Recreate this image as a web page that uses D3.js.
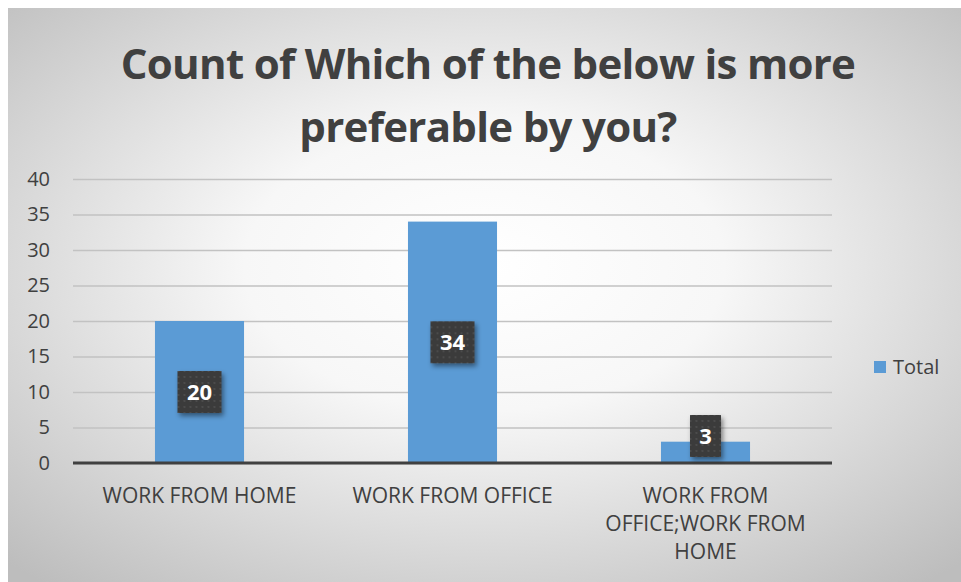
<!DOCTYPE html>
<head>
  <meta charset="UTF-8">
  <style>
    body { margin: 0; background: #fff; font-family: "Open Sans", sans-serif; }
    svg { display: block; }
  </style>
</head>
<body>
<script src="https://d3js.org/d3.v7.min.js"></script>
<div id="chart"></div>
<script>
  // data
  var categories = ["WORK FROM HOME", "WORK FROM OFFICE", "WORK FROM OFFICE;WORK FROM HOME"];
  var categoryLines = [["WORK FROM HOME"], ["WORK FROM OFFICE"], ["WORK FROM", "OFFICE;WORK FROM", "HOME"]];
  var totals = [20, 34, 3];
  var yTicks = [0, 5, 10, 15, 20, 25, 30, 35, 40];
  var titleLines = ["Count of Which of the below is more", "preferable by you?"];
  var seriesName = "Total";

  var width = 961, height = 582;
  var margin = {top: 179, right: 129, bottom: 119, left: 73};

  var svg = d3.select("#chart").append("svg")
    .attr("width", width)
    .attr("height", height);

  var defs = svg.append("defs");
  var grad = defs.append("radialGradient")
    .attr("id", "bg")
    .attr("cx", "50%").attr("cy", "45%").attr("r", "72%");
  grad.append("stop").attr("offset", "0%").attr("stop-color", "#ffffff");
  grad.append("stop").attr("offset", "35%").attr("stop-color", "#f7f7f7");
  grad.append("stop").attr("offset", "100%").attr("stop-color", "#bdbdbd");

  var pat = defs.append("pattern")
    .attr("id", "dots")
    .attr("width", 6).attr("height", 6)
    .attr("patternUnits", "userSpaceOnUse");
  pat.append("rect").attr("width", 6).attr("height", 6).attr("fill", "#3a3a3a");
  pat.append("circle").attr("cx", 3).attr("cy", 3).attr("r", 0.9).attr("fill", "#555");

  var shadow = defs.append("filter").attr("id", "shadow")
    .attr("x", "-30%").attr("y", "-30%").attr("width", "170%").attr("height", "170%");
  shadow.append("feDropShadow")
    .attr("dx", 2).attr("dy", 3).attr("stdDeviation", 2.5)
    .attr("flood-color", "#000").attr("flood-opacity", 0.45);

  // frame
  svg.append("rect")
    .attr("x", 8).attr("y", 8)
    .attr("width", width - 8).attr("height", height - 8)
    .attr("fill", "url(#bg)");

  // title
  svg.append("g").selectAll("text")
    .data(titleLines)
    .join("text")
    .attr("x", 488)
    .attr("y", (d, i) => 79 + i * 63)
    .attr("text-anchor", "middle")
    .attr("font-family", "Open Sans, sans-serif")
    .attr("font-weight", "bold")
    .attr("font-size", 42)
    .attr("letter-spacing", -0.7)
    .attr("fill", "#404040")
    .text(d => d);

  var x = d3.scaleBand()
    .domain(categories)
    .range([margin.left, width - margin.right])
    .paddingInner(0.648)
    .paddingOuter(0.324);

  var y = d3.scaleLinear()
    .domain([0, 40])
    .range([height - margin.bottom, margin.top]);

  // gridlines
  svg.append("g")
    .attr("transform", `translate(${margin.left},0)`)
    .call(d3.axisLeft(y).tickValues(yTicks).tickSize(-(width - margin.left - margin.right)).tickFormat(""))
    .call(g => g.select(".domain").remove())
    .call(g => g.selectAll(".tick line").attr("stroke", "#c2c2c2").attr("stroke-width", 1.3));

  // y tick labels
  svg.append("g")
    .attr("transform", "translate(50,0)")
    .call(d3.axisLeft(y).tickValues(yTicks).tickSize(0).tickPadding(0))
    .call(g => g.select(".domain").remove())
    .call(g => g.selectAll(".tick text")
      .attr("font-family", "Open Sans, sans-serif")
      .attr("font-size", 20)
      .attr("fill", "#404040"));

  // bars
  svg.append("g").selectAll("rect")
    .data(totals)
    .join("rect")
    .attr("x", (d, i) => x(categories[i]))
    .attr("y", d => y(d))
    .attr("width", x.bandwidth())
    .attr("height", d => y(0) - y(d))
    .attr("fill", "#5b9bd5");

  // baseline
  svg.append("line")
    .attr("x1", margin.left).attr("x2", width - margin.right)
    .attr("y1", y(0)).attr("y2", y(0))
    .attr("stroke", "#404040").attr("stroke-width", 3);

  // data labels
  var labels = svg.append("g").selectAll("g")
    .data(totals)
    .join("g")
    .attr("transform", (d, i) => {
      var cx = x(categories[i]) + x.bandwidth() / 2;
      var cy = Math.min(y(d / 2), y(0) - 27);
      return `translate(${cx},${cy})`;
    });
  labels.append("rect")
    .attr("x", d => -(String(d).length * 6.5 + 9))
    .attr("y", -21)
    .attr("width", d => (String(d).length * 6.5 + 9) * 2)
    .attr("height", 42)
    .attr("fill", "url(#dots)")
    .attr("filter", "url(#shadow)");
  labels.append("text")
    .attr("text-anchor", "middle")
    .attr("dy", "0.35em")
    .attr("font-family", "Open Sans, sans-serif")
    .attr("font-weight", "bold")
    .attr("font-size", 22)
    .attr("fill", "#fff")
    .text(d => d);

  // category labels
  var cat = svg.append("g").selectAll("text")
    .data(categoryLines)
    .join("text")
    .attr("x", (d, i) => x(categories[i]) + x.bandwidth() / 2)
    .attr("y", 503)
    .attr("text-anchor", "middle")
    .attr("font-family", "Open Sans, sans-serif")
    .attr("font-size", 21)
    .attr("fill", "#404040");
  cat.selectAll("tspan")
    .data(d => d)
    .join("tspan")
    .attr("x", function() { return d3.select(this.parentNode).attr("x"); })
    .attr("dy", (d, i) => i === 0 ? 0 : 28)
    .text(d => d);

  // legend
  var legend = svg.append("g").attr("transform", "translate(874,361)");
  legend.append("rect").attr("width", 12).attr("height", 12).attr("fill", "#5b9bd5");
  legend.append("text")
    .attr("x", 19).attr("y", 6).attr("dy", "0.35em")
    .attr("font-family", "Open Sans, sans-serif")
    .attr("font-size", 20)
    .attr("fill", "#404040")
    .text(seriesName);
</script>
</body>
</html>
